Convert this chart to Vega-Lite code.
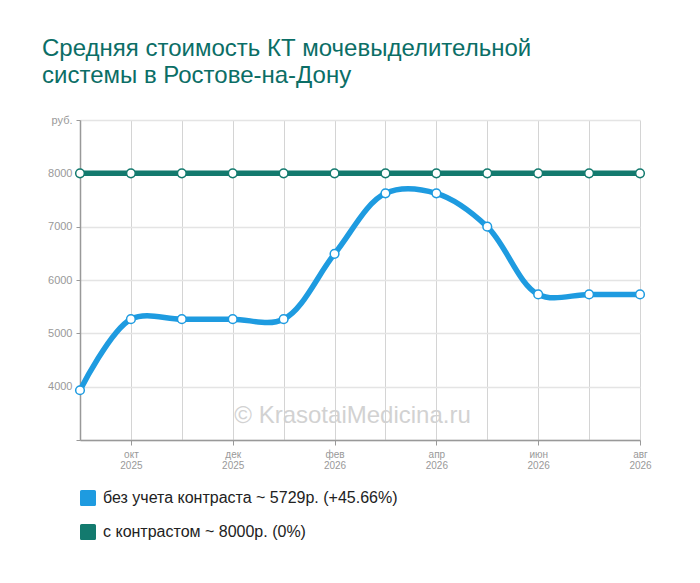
{
  "$schema": "https://vega.github.io/schema/vega-lite/v6.json",
  "width": 560,
  "height": 320,
  "autosize": {"type": "none"},
  "padding": {"left": 80, "top": 120, "right": 60, "bottom": 143},
  "background": "white",
  "config": {
    "font": "Liberation Sans",
    "view": {"stroke": null}
  },
  "title": {
    "text": ["Средняя стоимость КТ мочевыделительной", "системы в Ростове-на-Дону"],
    "anchor": "start",
    "frame": "group",
    "fontSize": 24,
    "fontWeight": "normal",
    "color": "#0b6e66",
    "lineHeight": 27,
    "dx": -38,
    "offset": 26,
    "font": "Liberation Sans"
  },
  "datasets": {
    "prices": [
      {"m": "2025-09", "series": "без учета контраста ~ 5729р. (+45.66%)", "price": 3933},
      {"m": "2025-10", "series": "без учета контраста ~ 5729р. (+45.66%)", "price": 5265},
      {"m": "2025-11", "series": "без учета контраста ~ 5729р. (+45.66%)", "price": 5265},
      {"m": "2025-12", "series": "без учета контраста ~ 5729р. (+45.66%)", "price": 5265},
      {"m": "2026-01", "series": "без учета контраста ~ 5729р. (+45.66%)", "price": 5265},
      {"m": "2026-02", "series": "без учета контраста ~ 5729р. (+45.66%)", "price": 6490},
      {"m": "2026-03", "series": "без учета контраста ~ 5729р. (+45.66%)", "price": 7625},
      {"m": "2026-04", "series": "без учета контраста ~ 5729р. (+45.66%)", "price": 7625},
      {"m": "2026-05", "series": "без учета контраста ~ 5729р. (+45.66%)", "price": 7000},
      {"m": "2026-06", "series": "без учета контраста ~ 5729р. (+45.66%)", "price": 5729},
      {"m": "2026-07", "series": "без учета контраста ~ 5729р. (+45.66%)", "price": 5729},
      {"m": "2026-08", "series": "без учета контраста ~ 5729р. (+45.66%)", "price": 5729},
      {"m": "2025-09", "series": "с контрастом ~ 8000р. (0%)", "price": 8000},
      {"m": "2025-10", "series": "с контрастом ~ 8000р. (0%)", "price": 8000},
      {"m": "2025-11", "series": "с контрастом ~ 8000р. (0%)", "price": 8000},
      {"m": "2025-12", "series": "с контрастом ~ 8000р. (0%)", "price": 8000},
      {"m": "2026-01", "series": "с контрастом ~ 8000р. (0%)", "price": 8000},
      {"m": "2026-02", "series": "с контрастом ~ 8000р. (0%)", "price": 8000},
      {"m": "2026-03", "series": "с контрастом ~ 8000р. (0%)", "price": 8000},
      {"m": "2026-04", "series": "с контрастом ~ 8000р. (0%)", "price": 8000},
      {"m": "2026-05", "series": "с контрастом ~ 8000р. (0%)", "price": 8000},
      {"m": "2026-06", "series": "с контрастом ~ 8000р. (0%)", "price": 8000},
      {"m": "2026-07", "series": "с контрастом ~ 8000р. (0%)", "price": 8000},
      {"m": "2026-08", "series": "с контрастом ~ 8000р. (0%)", "price": 8000}
    ],
    "mark": [
      {"m": "2026-02", "price": 3450, "label": "© KrasotaiMedicina.ru"}
    ]
  },
  "encoding": {
    "x": {
      "field": "m",
      "type": "ordinal",
      "scale": {"type": "point", "padding": 0},
      "axis": {
        "title": null,
        "labelAngle": 0,
        "labelColor": "#999999",
        "labelFontSize": 10,
        "labelLineHeight": 11,
        "labelPadding": 4,
        "labelExpr": "toNumber(substring(datum.value,5,7)) % 2 == 0 ? [['янв','фев','мар','апр','май','июн','июл','авг','сен','окт','ноя','дек'][toNumber(substring(datum.value,5,7))-1], substring(datum.value,0,4)] : ''",
        "grid": true,
        "gridColor": "#d4d4d4",
        "gridWidth": 1,
        "domainColor": "#999999",
        "domainWidth": 1.5,
        "tickColor": "#999999",
        "tickSize": 5,
        "tickOpacity": {"condition": {"test": "toNumber(substring(datum.value,5,7)) % 2 == 0", "value": 1}, "value": 0}
      }
    },
    "y": {
      "field": "price",
      "type": "quantitative",
      "scale": {"domain": [3000, 9000], "nice": false, "zero": false},
      "axis": {
        "title": null,
        "values": [3000, 4000, 5000, 6000, 7000, 8000, 9000],
        "labelExpr": "datum.value == 9000 ? 'руб.' : (datum.value == 3000 ? '' : format(datum.value, 'd'))",
        "labelColor": "#999999",
        "labelFontSize": 11,
        "labelPadding": 4,
        "grid": true,
        "gridColor": "#e4e4e4",
        "gridWidth": 1.5,
        "domainColor": "#999999",
        "domainWidth": 1.5,
        "tickColor": "#999999",
        "tickSize": 4
      }
    }
  },
  "layer": [
    {
      "data": {"name": "mark"},
      "mark": {"type": "text", "fontSize": 24, "color": "#d2d2d2", "dx": 18, "align": "center", "baseline": "middle"},
      "encoding": {"text": {"field": "label"}}
    },
    {
      "data": {"name": "prices"},
      "mark": {"type": "line", "interpolate": "catmull-rom", "strokeWidth": 5.5},
      "encoding": {
        "color": {
          "field": "series",
          "type": "nominal",
          "scale": {
            "domain": ["без учета контраста ~ 5729р. (+45.66%)", "с контрастом ~ 8000р. (0%)"],
            "range": ["#1e9be0", "#137a6e"]
          },
          "legend": {
            "title": null,
            "orient": "none",
            "legendX": 0,
            "legendY": 370,
            "direction": "vertical",
            "symbolType": "M-0.8,-1H0.8A0.2,0.2,0,0,1,1,-0.8V0.8A0.2,0.2,0,0,1,0.8,1H-0.8A0.2,0.2,0,0,1,-1,0.8V-0.8A0.2,0.2,0,0,1,-0.8,-1Z",
            "symbolSize": 256,
            "symbolOpacity": 1,
            "labelFontSize": 16,
            "labelColor": "#222222",
            "labelOffset": 7,
            "rowPadding": 18,
            "labelLimit": 500,
            "encode": {
              "symbols": {
                "update": {
                  "fill": {"scale": "color", "field": "value"},
                  "strokeWidth": {"value": 0}
                }
              }
            }
          }
        }
      }
    },
    {
      "data": {"name": "prices"},
      "mark": {"type": "point", "filled": true, "fill": "white", "size": 75, "strokeWidth": 1.5, "opacity": 1},
      "encoding": {
        "stroke": {"field": "series", "type": "nominal", "scale": {"domain": ["без учета контраста ~ 5729р. (+45.66%)", "с контрастом ~ 8000р. (0%)"], "range": ["#1e9be0", "#137a6e"]}, "legend": null}
      }
    }
  ]
}
